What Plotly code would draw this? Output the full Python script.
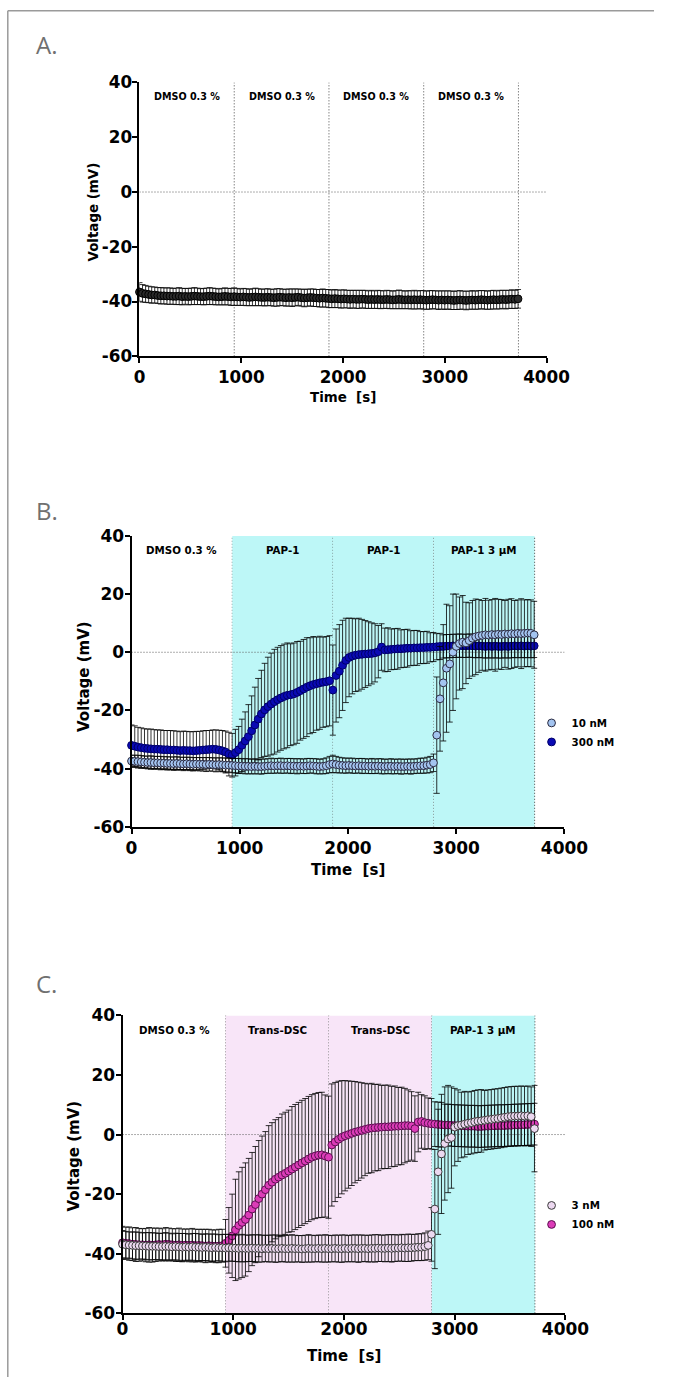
import plotly.graph_objects as go

W, H = 678, 1387
FONT = "DejaVu Sans, Liberation Sans, Arial, sans-serif"

# Measured mapping between page pixels and the returned picture (picture = a*page + b).
AX, BX = 0.958, 5.2
AY, BY = 0.9825, 12.75


def fx(P):
    """paper x fraction for a position P (px) in the reference picture"""
    return ((P - BX) / AX) / W


def fy(P):
    """paper y fraction for a position P (px) in the reference picture"""
    return 1 - ((P - BY) / AY) / H


# ---------------- data ----------------
time_s = [0, 30, 60, 90, 120, 150, 180, 210, 240, 270, 300, 330, 360, 390, 420, 450, 480, 510, 540, 570,
          600, 630, 660, 690, 720, 750, 780, 810, 840, 870, 900, 930, 960, 990, 1020, 1050, 1080, 1110, 1140, 1170,
          1200, 1230, 1260, 1290, 1320, 1350, 1380, 1410, 1440, 1470, 1500, 1530, 1560, 1590, 1620, 1650, 1680, 1710, 1740, 1770,
          1800, 1830, 1860, 1890, 1920, 1950, 1980, 2010, 2040, 2070, 2100, 2130, 2160, 2190, 2220, 2250, 2280, 2310, 2340, 2370,
          2400, 2430, 2460, 2490, 2520, 2550, 2580, 2610, 2640, 2670, 2700, 2730, 2760, 2790, 2820, 2850, 2880, 2910, 2940, 2970,
          3000, 3030, 3060, 3090, 3120, 3150, 3180, 3210, 3240, 3270, 3300, 3330, 3360, 3390, 3420, 3450, 3480, 3510, 3540, 3570,
          3600, 3630, 3660, 3690, 3720]

period_ends_s = [931, 1862, 2793, 3724]
x_ticks = [0, 1000, 2000, 3000, 4000]
x_tick_text = ["0", "1000", "2000", "3000", "4000"]
y_ticks = [-60, -40, -20, 0, 20, 40]
y_tick_text = ["-60", "-40", "-20", "0", "20", "40"]

labels_A = ["DMSO 0.3 %", "DMSO 0.3 %", "DMSO 0.3 %", "DMSO 0.3 %"]
labels_B = ["DMSO 0.3 %", "PAP-1", "PAP-1", "PAP-1 3 μM"]
labels_C = ["DMSO 0.3 %", "Trans-DSC", "Trans-DSC", "PAP-1 3 μM"]

# Panel A: DMSO control
A_mean = [-36.5, -37.0, -37.2, -37.4, -37.6, -37.6, -37.8, -37.9, -37.9, -38.0,
          -38.0, -38.1, -38.1, -38.0, -38.2, -38.1, -38.2, -38.1, -38.0, -38.1,
          -38.2, -38.2, -38.1, -38.0, -38.1, -38.2, -38.3, -38.2, -38.1, -38.2,
          -38.3, -38.2, -38.3, -38.4, -38.3, -38.4, -38.5, -38.4, -38.3, -38.4,
          -38.5, -38.5, -38.4, -38.5, -38.6, -38.5, -38.4, -38.5, -38.6, -38.5,
          -38.6, -38.5, -38.4, -38.6, -38.7, -38.6, -38.5, -38.6, -38.7, -38.8,
          -38.7, -38.8, -38.9, -39.0, -38.9, -39.0, -39.1, -39.0, -39.1, -39.2,
          -39.1, -39.2, -39.2, -39.1, -39.2, -39.3, -39.2, -39.3, -39.2, -39.3,
          -39.3, -39.2, -39.3, -39.4, -39.3, -39.2, -39.3, -39.4, -39.3, -39.4,
          -39.3, -39.4, -39.3, -39.4, -39.5, -39.4, -39.3, -39.4, -39.5, -39.4,
          -39.5, -39.4, -39.5, -39.6, -39.5, -39.4, -39.5, -39.6, -39.5, -39.4,
          -39.5, -39.4, -39.3, -39.4, -39.5, -39.4, -39.3, -39.4, -39.3, -39.2,
          -39.3, -39.2, -39.1, -39.2, -39.0]
A_err = [3.4, 3.2, 3.1, 3.0, 3.0, 2.9, 2.9, 3.0, 2.9, 3.0,
         3.0, 2.9, 3.0, 3.1, 3.0, 2.9, 3.0, 3.0, 3.1, 3.0,
         2.9, 3.0, 3.0, 3.1, 3.0, 3.0, 2.9, 3.0, 3.1, 3.0,
         3.1, 3.2, 3.1, 3.0, 3.1, 3.1, 3.0, 3.1, 3.2, 3.1,
         3.0, 3.1, 3.1, 3.0, 3.1, 3.2, 3.1, 3.0, 3.1, 3.1,
         3.2, 3.1, 3.0, 3.1, 3.2, 3.1, 3.1, 3.2, 3.1, 3.2,
         3.3, 3.2, 3.3, 3.2, 3.3, 3.2, 3.3, 3.3, 3.2, 3.3,
         3.2, 3.3, 3.3, 3.2, 3.3, 3.2, 3.3, 3.2, 3.3, 3.3,
         3.2, 3.3, 3.3, 3.2, 3.3, 3.4, 3.3, 3.2, 3.3, 3.3,
         3.4, 3.3, 3.3, 3.4, 3.3, 3.4, 3.3, 3.3, 3.4, 3.3,
         3.4, 3.3, 3.4, 3.3, 3.4, 3.4, 3.3, 3.4, 3.3, 3.4,
         3.3, 3.4, 3.3, 3.4, 3.3, 3.4, 3.4, 3.3, 3.4, 3.3,
         3.4, 3.3, 3.4, 3.3, 3.4]

# Panel B: PAP-1 10 nM / 300 nM
B10_mean = [-37.4, -37.5, -37.6, -37.7, -37.8, -37.9, -37.9, -38.0, -38.0, -38.1,
            -38.1, -38.2, -38.2, -38.3, -38.2, -38.3, -38.4, -38.3, -38.4, -38.5,
            -38.4, -38.5, -38.5, -38.6, -38.5, -38.6, -38.7, -38.6, -38.7, -38.8,
            -38.8, -38.9, -39.0, -39.1, -39.1, -39.2, -39.2, -39.3, -39.2, -39.3,
            -39.3, -39.2, -39.1, -39.0, -39.1, -39.0, -39.0, -39.1, -39.0, -39.1,
            -39.1, -39.2, -39.1, -39.2, -39.1, -39.0, -39.1, -39.2, -39.3, -39.2,
            -39.0, -38.6, -38.4, -38.6, -38.8, -38.9, -39.0, -38.9, -39.0, -39.1,
            -39.0, -39.1, -39.1, -39.2, -39.1, -39.2, -39.1, -39.2, -39.3, -39.2,
            -39.2, -39.3, -39.2, -39.3, -39.3, -39.2, -39.3, -39.2, -39.1, -39.0,
            -39.0, -38.8, -38.6, -38.0, -28.5, -16.0, -10.5, -5.5, -4.0, 0.0,
            2.0, 3.0, 3.5, 3.2, 4.0, 4.8, 5.3, 5.6, 5.8, 6.0,
            5.9, 6.1, 6.0, 6.2, 6.1, 6.3, 6.2, 6.4, 6.3, 6.5,
            6.4, 6.5, 6.6, 6.5, 6.0]
B10_err = [2.0, 2.1, 2.2, 2.2, 2.1, 2.2, 2.3, 2.2, 2.2, 2.3,
           2.2, 2.3, 2.2, 2.3, 2.3, 2.2, 2.3, 2.2, 2.3, 2.3,
           2.2, 2.3, 2.3, 2.4, 2.3, 2.3, 2.4, 2.3, 2.4, 2.4,
           2.4, 2.5, 2.5, 2.6, 2.5, 2.6, 2.6, 2.5, 2.6, 2.5,
           2.6, 2.5, 2.5, 2.6, 2.5, 2.5, 2.6, 2.5, 2.5, 2.6,
           2.5, 2.6, 2.5, 2.5, 2.6, 2.5, 2.5, 2.6, 2.5, 2.6,
           2.7, 2.8, 3.0, 2.8, 2.7, 2.6, 2.6, 2.5, 2.6, 2.5,
           2.5, 2.6, 2.5, 2.5, 2.6, 2.5, 2.5, 2.6, 2.5, 2.5,
           2.6, 2.5, 2.5, 2.6, 2.5, 2.5, 2.6, 2.5, 2.5, 2.6,
           2.6, 2.7, 2.8, 3.0, 20.0, 18.0, 20.0, 22.0, 20.0, 20.0,
           18.0, 16.0, 16.0, 14.0, 13.0, 13.0, 13.0, 12.5, 12.0, 12.5,
           12.0, 12.0, 12.5, 12.0, 12.0, 11.5, 12.0, 12.0, 11.5, 11.5,
           12.0, 11.5, 11.5, 11.5, 11.5]
B300_mean = [-32.0, -32.3, -32.6, -32.8, -33.0, -33.1, -33.2, -33.3, -33.3, -33.4,
             -33.5, -33.5, -33.6, -33.6, -33.7, -33.8, -33.7, -33.8, -33.8, -33.9,
             -33.8, -33.7, -33.6, -33.5, -33.4, -33.3, -33.4, -33.6, -33.9, -34.3,
             -35.0, -35.4, -34.5, -33.5, -32.0, -30.5, -29.0, -27.0, -25.0, -23.0,
             -21.2, -19.8, -18.7, -17.8, -17.0, -16.3, -15.7, -15.2, -14.8, -14.6,
             -14.3, -13.8, -13.2, -12.6, -12.0, -11.5, -11.1, -10.8, -10.5, -10.3,
             -10.1, -9.8, -13.0, -8.0, -6.5, -4.5, -2.8, -1.8, -1.3, -1.0,
             -0.8, -0.7, -0.6, -0.5, -0.4, -0.2, 0.2, 1.8, 0.8, 0.9,
             1.0, 1.1, 1.2, 1.2, 1.3, 1.4, 1.4, 1.5, 1.5, 1.6,
             1.6, 1.7, 1.7, 1.8, 1.9, 2.0, 2.0, 2.1, 2.1, 2.2,
             2.2, 2.3, 2.2, 2.2, 2.3, 2.2, 2.1, 2.2, 2.1, 2.0,
             2.1, 2.0, 2.1, 2.0, 2.0, 2.1, 2.0, 2.1, 2.2, 2.1,
             2.2, 2.1, 2.2, 2.1, 2.2]
B300_err = [7.0, 7.0, 6.8, 6.8, 6.7, 6.7, 6.8, 6.7, 6.6, 6.7,
            6.6, 6.6, 6.7, 6.6, 6.6, 6.5, 6.6, 6.6, 6.5, 6.6,
            6.6, 6.5, 6.6, 6.6, 6.5, 6.6, 6.7, 6.8, 7.0, 7.2,
            7.5, 7.5, 8.0, 8.0, 9.0, 10.0, 11.0, 12.0, 13.0, 14.0,
            15.0, 16.0, 17.0, 17.5, 18.0, 18.0, 18.0, 18.0, 18.0, 17.5,
            17.5, 17.5, 17.0, 17.0, 17.0, 16.5, 16.5, 16.0, 16.0, 15.5,
            15.5, 15.5, 15.5, 16.0, 16.0, 15.5, 14.5, 13.5, 13.0, 12.5,
            12.5, 12.0, 11.5, 11.0, 10.5, 10.0, 9.0, 8.0, 7.5, 7.5,
            7.0, 7.0, 7.0, 6.5, 6.5, 6.5, 6.0, 6.0, 6.0, 5.5,
            5.5, 5.5, 5.0, 5.0, 4.5, 4.5, 4.0, 4.0, 4.0, 4.0,
            4.0, 4.0, 4.0, 4.0, 4.0, 4.0, 4.0, 4.0, 4.0, 4.0,
            4.0, 4.0, 4.0, 4.0, 4.0, 4.0, 4.0, 4.0, 4.0, 4.0,
            4.0, 4.0, 4.0, 4.0, 4.0]

# Panel C: Trans-DSC 3 nM / 100 nM
C3_mean = [-36.8, -37.0, -37.1, -37.2, -37.3, -37.3, -37.4, -37.4, -37.5, -37.5,
           -37.5, -37.6, -37.6, -37.5, -37.6, -37.7, -37.6, -37.7, -37.8, -37.7,
           -37.8, -37.7, -37.8, -37.8, -37.9, -37.8, -37.9, -38.0, -37.9, -38.0,
           -38.0, -38.1, -38.0, -38.1, -38.1, -38.2, -38.1, -38.2, -38.2, -38.1,
           -38.2, -38.2, -38.3, -38.2, -38.3, -38.2, -38.3, -38.3, -38.2, -38.3,
           -38.3, -38.2, -38.3, -38.3, -38.4, -38.3, -38.2, -38.3, -38.3, -38.2,
           -38.3, -38.2, -38.3, -38.3, -38.2, -38.3, -38.3, -38.2, -38.3, -38.2,
           -38.2, -38.3, -38.2, -38.2, -38.3, -38.2, -38.2, -38.1, -38.2, -38.2,
           -38.1, -38.2, -38.1, -38.1, -38.0, -38.1, -38.0, -38.0, -37.9, -37.8,
           -37.8, -37.6, -37.2, -33.5, -25.0, -12.5, -6.5, -3.0, -1.5, -1.0,
           2.5, 3.0, 3.2, 3.5, 3.8, 4.0, 4.3, 4.5, 4.6, 4.8,
           5.0, 5.1, 5.3, 5.4, 5.6, 5.8, 6.0, 6.1, 6.2, 6.2,
           6.3, 6.2, 6.3, 6.0, 2.0]
C3_err = [4.6, 4.5, 4.4, 4.5, 4.6, 4.5, 4.4, 4.5, 4.6, 4.5,
          4.5, 4.4, 4.5, 4.6, 4.5, 4.4, 4.5, 4.5, 4.6, 4.5,
          4.4, 4.5, 4.6, 4.5, 4.4, 4.5, 4.5, 4.6, 4.5, 4.4,
          4.5, 4.6, 4.5, 4.4, 4.5, 4.5, 4.6, 4.5, 4.4, 4.5,
          4.5, 4.6, 4.5, 4.4, 4.5, 4.5, 4.6, 4.5, 4.4, 4.5,
          4.5, 4.6, 4.5, 4.4, 4.5, 4.5, 4.6, 4.5, 4.4, 4.5,
          4.5, 4.6, 4.5, 4.4, 4.5, 4.5, 4.6, 4.5, 4.4, 4.5,
          4.5, 4.6, 4.5, 4.4, 4.5, 4.5, 4.6, 4.5, 4.4, 4.5,
          4.5, 4.6, 4.5, 4.4, 4.5, 4.5, 4.6, 4.5, 4.4, 4.5,
          4.5, 4.6, 4.8, 9.0, 20.0, 21.0, 20.0, 19.0, 18.0, 17.0,
          13.0, 12.0, 11.0, 11.0, 10.5, 10.5, 10.5, 10.5, 10.5, 10.0,
          10.0, 10.0, 10.0, 10.0, 10.0, 10.0, 10.0, 10.0, 10.0, 10.0,
          10.0, 10.0, 10.0, 10.0, 14.5]
C100_mean = [-36.3, -36.5, -36.6, -36.8, -36.9, -37.0, -37.0, -37.1, -37.0, -37.1,
             -37.0, -36.9, -37.0, -36.8, -36.9, -37.0, -37.1, -37.0, -37.2, -37.1,
             -37.2, -37.1, -37.3, -37.2, -37.3, -37.4, -37.3, -37.4, -37.5, -37.4,
             -37.3, -36.5, -35.5, -34.0, -32.0, -30.5, -29.5, -28.5, -27.0, -25.0,
             -23.5, -21.5, -20.0, -18.5, -17.0, -16.0, -15.0, -14.3, -13.6, -13.0,
             -12.3, -11.6, -10.9, -10.2, -9.5, -8.9, -8.2, -7.6, -7.2, -6.9,
             -6.8, -7.2, -7.6, -3.5, -2.5, -1.6, -0.9, -0.4, 0.0, 0.4,
             0.8, 1.1, 1.4, 1.7, 2.0, 2.2, 2.3, 2.4, 2.5, 2.6,
             2.6, 2.7, 2.8, 2.8, 2.9, 3.0, 3.0, 2.9, 2.0, 4.2,
             4.4, 4.0, 3.8, 3.6, 3.5, 3.4, 3.3, 3.2, 3.2, 3.1,
             3.0, 3.0, 2.9, 2.9, 2.8, 2.8, 2.8, 2.7, 2.7, 2.8,
             2.8, 2.9, 2.9, 3.0, 3.0, 3.0, 3.1, 3.1, 3.2, 3.2,
             3.3, 3.3, 3.4, 3.4, 3.5]
C100_err = [5.5, 5.4, 5.6, 5.5, 5.7, 5.5, 5.4, 5.6, 5.8, 5.7,
            5.6, 5.5, 5.4, 5.6, 5.5, 5.4, 5.5, 5.6, 5.5, 5.4,
            5.5, 5.6, 5.5, 5.4, 5.5, 5.6, 5.5, 5.4, 5.5, 5.6,
            5.5, 8.0, 11.0, 14.0, 17.0, 18.0, 18.5, 19.0, 19.0, 19.0,
            19.5, 19.5, 19.5, 19.5, 20.0, 20.0, 20.0, 20.0, 20.5, 20.5,
            20.5, 21.0, 21.0, 21.0, 21.0, 21.0, 21.0, 21.0, 21.0, 21.0,
            21.0, 20.5, 20.5, 20.5, 20.0, 19.5, 19.0, 18.5, 18.0, 17.5,
            17.0, 16.5, 16.0, 15.5, 15.0, 15.0, 14.5, 14.5, 14.0, 14.0,
            14.0, 13.5, 13.5, 13.0, 13.0, 12.5, 12.0, 11.5, 11.0, 10.0,
            9.0, 9.0, 8.5, 8.5, 7.5, 7.5, 7.5, 7.0, 7.0, 7.0,
            7.0, 7.0, 7.0, 7.0, 7.0, 7.0, 7.0, 7.0, 7.0, 7.0,
            7.0, 7.0, 7.0, 7.0, 7.0, 7.0, 7.0, 7.0, 7.0, 7.0,
            7.0, 7.0, 7.0, 7.0, 7.0]

for nm, arr in [("A_mean", A_mean), ("A_err", A_err), ("B10_mean", B10_mean), ("B10_err", B10_err),
                ("B300_mean", B300_mean), ("B300_err", B300_err), ("C3_mean", C3_mean), ("C3_err", C3_err),
                ("C100_mean", C100_mean), ("C100_err", C100_err)]:
    if len(arr) != len(time_s):
        raise SystemExit(f"{nm} has {len(arr)} values, expected {len(time_s)}")

# ---------------- styling / layout ----------------
CYAN = "#bdf7f7"
PINK = "#f8e5f8"
shades_B = [None, CYAN, CYAN, CYAN]
shades_C = [None, PINK, PINK, CYAN]
DOT = "1px,2px"

panels = [
    dict(s="", xpx=(139, 547), ypx=(85, 358), tf=16.8, ttf=13.4, lab=labels_A, shade=[None] * 4, lf=9.6,
         xstand=0, ytitle=(93, 214), xtitle=(343, 399.5)),
    dict(s="2", xpx=(131, 565), ypx=(537, 827), tf=17.0, ttf=15.0, lab=labels_B, shade=shades_B, lf=10.3,
         xstand=0, ytitle=(84, 677), xtitle=(348, 870)),
    dict(s="3", xpx=(122, 566), ypx=(1015, 1312), tf=17.0, ttf=15.0, lab=labels_C, shade=shades_C, lf=10.3,
         xstand=-6, ytitle=(73, 1155), xtitle=(344, 1355)),
]

fig = go.Figure()
layout = dict(width=W, height=H, margin=dict(l=0, r=0, t=0, b=0),
              paper_bgcolor="white", plot_bgcolor="rgba(0,0,0,0)", showlegend=True)
shapes = []
annotations = []

for p in panels:
    s = p["s"]
    xa, ya = "x" + s, "y" + s
    tickfont = dict(family=FONT, size=p["tf"], color="black", weight="bold")
    titlefont = dict(family=FONT, size=p["ttf"], color="black", weight="bold")
    layout["xaxis" + s] = dict(
        domain=[fx(p["xpx"][0]), fx(p["xpx"][1])], anchor=ya, range=[0, 4000],
        tickmode="array", tickvals=x_ticks, ticktext=x_tick_text, ticklabelstandoff=p["xstand"],
        showline=True, linewidth=2, linecolor="black", ticks="outside", ticklen=5, tickwidth=2,
        tickcolor="black", showgrid=False, zeroline=False, fixedrange=True, tickfont=tickfont)
    layout["yaxis" + s] = dict(
        domain=[fy(p["ypx"][1]), fy(p["ypx"][0])], anchor=xa, range=[-60, 40],
        tickmode="array", tickvals=y_ticks, ticktext=y_tick_text, ticklabelstandoff=-3,
        showline=True, linewidth=2, linecolor="black", ticks="outside", ticklen=5, tickwidth=2,
        tickcolor="black", showgrid=False, zeroline=False, fixedrange=True, tickfont=tickfont)
    # axis titles
    annotations.append(dict(xref="paper", yref="paper", x=fx(p["ytitle"][0]), y=fy(p["ytitle"][1]),
                            text="Voltage (mV)", textangle=-90, showarrow=False, font=titlefont,
                            xanchor="center", yanchor="middle"))
    annotations.append(dict(xref="paper", yref="paper", x=fx(p["xtitle"][0]), y=fy(p["xtitle"][1]),
                            text="Time\u00a0 [s]", showarrow=False, font=titlefont,
                            xanchor="center", yanchor="middle"))
    starts = [0] + period_ends_s[:-1]
    for a, b, lab, sh in zip(starts, period_ends_s, p["lab"], p["shade"]):
        if sh:
            shapes.append(dict(type="rect", xref=xa, yref=ya, x0=a, x1=b, y0=-60, y1=40,
                               fillcolor=sh, line=dict(width=0), layer="below"))
        shapes.append(dict(type="line", xref=xa, yref=ya, x0=b, x1=b, y0=-60, y1=40,
                           line=dict(color="#4a4a4a", width=1, dash=DOT), layer="below"))
        annotations.append(dict(xref=xa, yref=ya, x=(a + b) / 2, y=35, text=lab, showarrow=False,
                                font=dict(family=FONT, size=p["lf"], color="black", weight="bold")))
    shapes.append(dict(type="line", xref=xa, yref=ya, x0=0, x1=4000, y0=0, y1=0,
                       line=dict(color="#5a5a5a", width=1, dash=DOT), layer="below"))


def add_series(x, mean, err, s, name, fill, edge, legend, show):
    fig.add_trace(go.Scatter(
        x=x, y=mean, mode="markers", name=name, xaxis="x" + s, yaxis="y" + s,
        marker=dict(size=7.8, color=fill, line=dict(color=edge, width=1)),
        error_y=dict(type="data", array=err, visible=True, color="rgba(0,0,0,0.8)", thickness=1, width=3),
        cliponaxis=False, showlegend=show, legend=legend, hoverinfo="skip"))


add_series(time_s, A_mean, A_err, "", "DMSO", "#2b2b2b", "#000000", "legend", False)
add_series(time_s, B300_mean, B300_err, "2", "300 nM", "#0a0ab4", "#00006a", "legend", True)
add_series(time_s, B10_mean, B10_err, "2", "10 nM", "#a3c4f0", "#2a2a40", "legend", True)
add_series(time_s, C100_mean, C100_err, "3", "100 nM", "#dc3cb8", "#5a1050", "legend2", True)
add_series(time_s, C3_mean, C3_err, "3", "3 nM", "#ecd8f0", "#3a3a3a", "legend2", True)

leg_font = dict(family=FONT, size=10.3, color="black", weight="bold")
layout["legend"] = dict(x=fx(532), y=fy(709), xanchor="left", yanchor="top", bgcolor="rgba(0,0,0,0)",
                        font=leg_font, traceorder="reversed", itemwidth=30)
layout["legend2"] = dict(x=fx(532), y=fy(1190), xanchor="left", yanchor="top", bgcolor="rgba(0,0,0,0)",
                         font=leg_font, traceorder="reversed", itemwidth=30)

# panel letters
for letter, ypx in [("A.", 47), ("B.", 512), ("C.", 983)]:
    annotations.append(dict(xref="paper", yref="paper", x=fx(33), y=fy(ypx), xanchor="left", yanchor="middle",
                            text=letter, showarrow=False,
                            font=dict(family="Open Sans, Noto Sans, sans-serif", size=24, color="#707070")))

# outer frame (top and left edges)
shapes.append(dict(type="line", xref="paper", yref="paper", x0=fx(7), x1=1, y0=0.9995, y1=0.9995,
                   line=dict(color="#9a9a9a", width=1.5)))
shapes.append(dict(type="line", xref="paper", yref="paper", x0=fx(7), x1=fx(7), y0=0, y1=0.9995,
                   line=dict(color="#9a9a9a", width=1.5)))

layout["shapes"] = shapes
layout["annotations"] = annotations
fig.update_layout(**layout)

fig.write_html("out.html", config={"displayModeBar": False},
               post_script="document.body.style.margin='0px';")
